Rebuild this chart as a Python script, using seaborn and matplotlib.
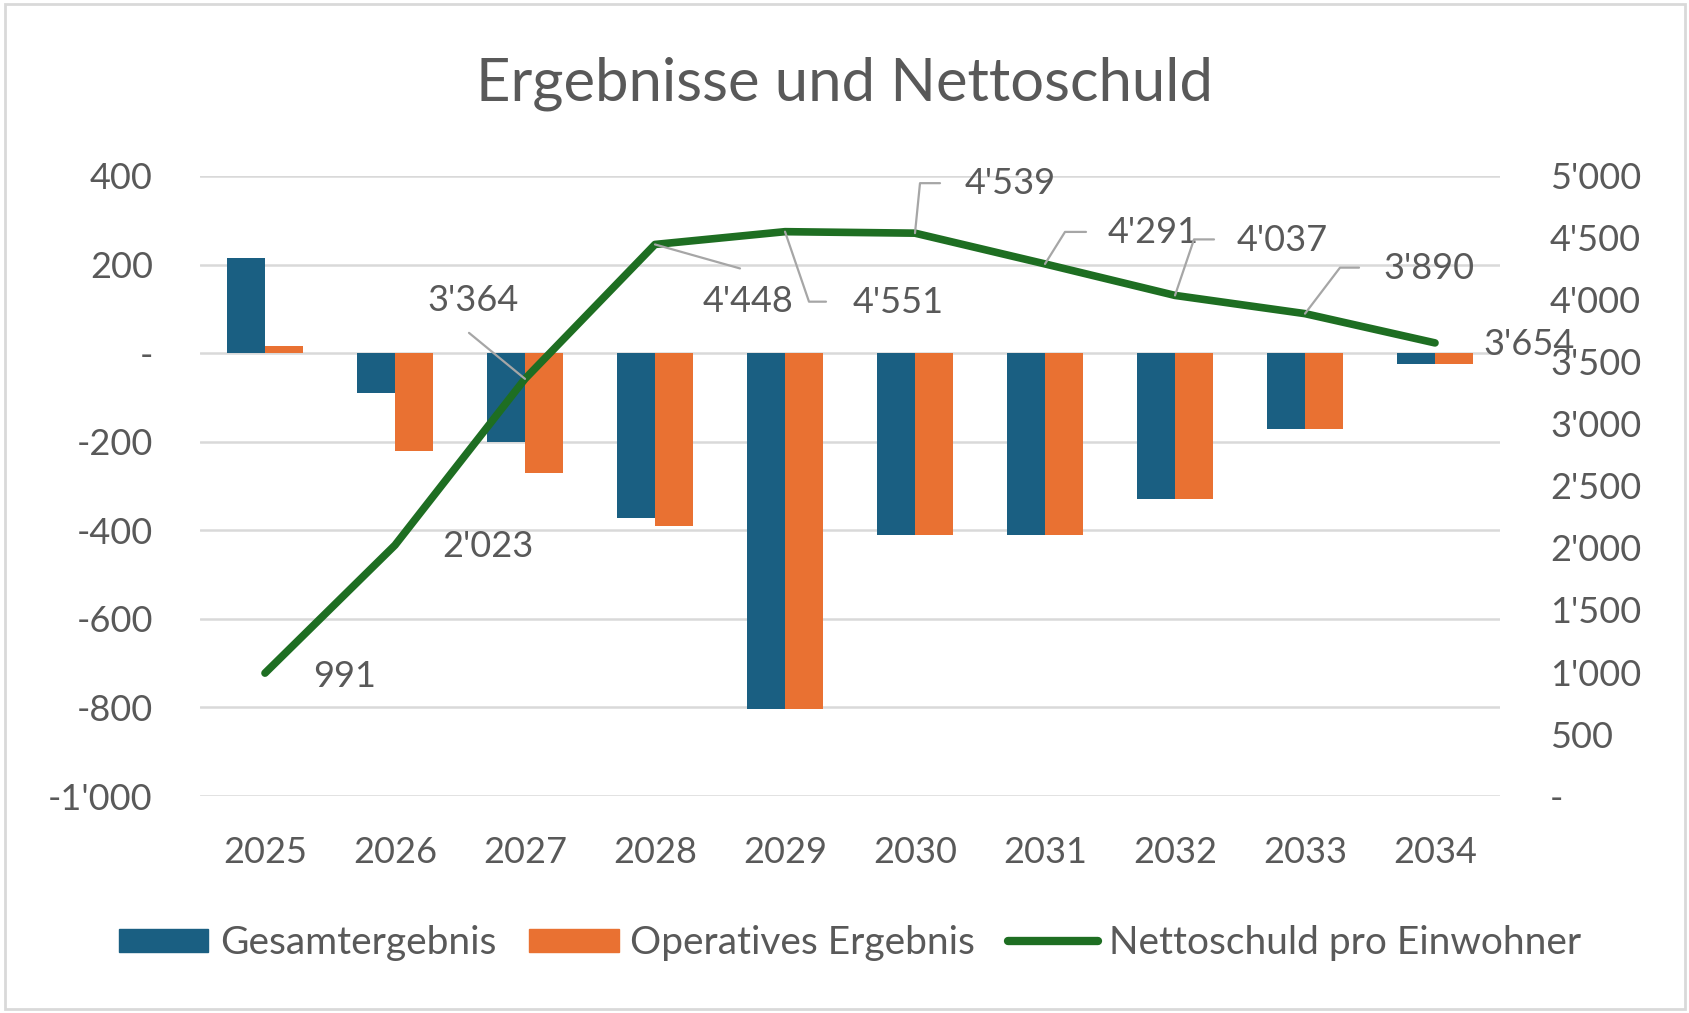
import numpy as np
import pandas as pd
import matplotlib
matplotlib.use('Agg')
import matplotlib.pyplot as plt
import seaborn as sns
from matplotlib.lines import Line2D
from matplotlib.patches import Rectangle
from matplotlib.transforms import IdentityTransform

sns.set_theme(style='white')
plt.rcParams['font.family'] = ['Lato', 'DejaVu Sans']

# data
years = ['2025', '2026', '2027', '2028', '2029', '2030', '2031', '2032', '2033', '2034']
gesamt = [214, -90, -200, -373, -804, -410, -410, -330, -171, -25]
operativ = [16, -222, -271, -390, -804, -410, -410, -330, -171, -25]
netdebt = [991, 2023, 3364, 4448, 4551, 4539, 4291, 4037, 3890, 3654]
series_names = ['Gesamtergebnis', 'Operatives Ergebnis', 'Nettoschuld pro Einwohner']

c_blue = '#1a5f82'
c_orange = '#e97132'
c_green = '#1e6e22'
c_text = '#595959'
c_grid = '#d9d9d9'

df = pd.DataFrame({
    'Jahr': years * 2,
    'Wert': gesamt + operativ,
    'Serie': [series_names[0]] * len(years) + [series_names[1]] * len(years),
})

fig = plt.figure(figsize=(16.9, 10.13), dpi=100)
ax = fig.add_axes([200 / 1690, 1 - 796 / 1013, 1300 / 1690, 620 / 1013])

sns.barplot(data=df, x='Jahr', y='Wert', hue='Serie', order=years,
            palette=[c_blue, c_orange], width=0.58, linewidth=0,
            saturation=1, ax=ax, legend=False)
ax.set_ylim(-1000, 400)
ax.set_yticks(np.arange(-1000, 401, 200))
ax.set_xlim(-0.5, len(years) - 0.5)
ax.grid(axis='y', color=c_grid, linewidth=1.8)
ax.set_axisbelow(True)
ax.set_xlabel('')
ax.set_ylabel('')


def fmt(v, pos=None):
    if v == 0:
        return '-'
    return f"{int(round(v)):,}".replace(',', "'")


ax.yaxis.set_major_formatter(plt.FuncFormatter(fmt))
ax.tick_params(axis='y', length=0, labelsize=26, labelcolor=c_text, pad=34)
ax.tick_params(axis='x', length=0, labelsize=26, labelcolor=c_text, pad=29)
for s in ax.spines.values():
    s.set_visible(False)

ax2 = ax.twinx()
pos = np.arange(len(years))
sns.lineplot(x=pos, y=netdebt, color=c_green, linewidth=5.5, ax=ax2,
             solid_capstyle='round', solid_joinstyle='round')
ax2.set_ylim(0, 5000)
ax2.set_yticks(np.arange(0, 5001, 500))
ax2.yaxis.set_major_formatter(plt.FuncFormatter(fmt))
ax2.tick_params(axis='y', length=0, labelsize=26, labelcolor=c_text, pad=36)
ax2.grid(False)
ax2.set_xlim(-0.5, len(years) - 0.5)
for s in ax2.spines.values():
    s.set_visible(False)

# data labels: offset of label (px, y up) and leader path offsets
label_off = [(48, -3, 'left'), (47, -1, 'left'), (-52, 78, 'center'),
             (93, -57, 'center'), (68, -71, 'left'), (50, 50, 'left'),
             (63, 31, 'left'), (62, 55, 'left'), (78, 45, 'left'),
             (48, -2, 'left')]
leaders = {2: [(-56, 46)], 3: [(85, -24)], 4: [(24, -70), (41, -70)],
           5: [(5, 50), (25, 50)], 6: [(20, 32), (41, 32)],
           7: [(19, 56), (39, 56)], 8: [(35, 46), (54, 46)]}

for i, v in enumerate(netdebt):
    dx, dy, ha = label_off[i]
    ax2.annotate(fmt(v), (pos[i], v), xytext=(dx, dy), textcoords='offset pixels',
                 ha=ha, va='center', fontsize=26, color=c_text)

fig.canvas.draw()
for i, pts in leaders.items():
    x0, y0 = ax2.transData.transform((pos[i], netdebt[i]))
    xs = [x0] + [x0 + p[0] for p in pts]
    ys = [y0] + [y0 + p[1] for p in pts]
    fig.add_artist(Line2D(xs, ys, transform=IdentityTransform(),
                          color='#a6a6a6', linewidth=1.6, zorder=1))

fig.text(0.5, 1 - 84 / 1013, 'Ergebnisse und Nettoschuld', ha='center',
         va='center', fontsize=43, color=c_text)

handles = [Rectangle((0, 0), 1, 1, color=c_blue),
           Rectangle((0, 0), 1, 1, color=c_orange),
           Line2D([0], [0], color=c_green, linewidth=6, solid_capstyle='round')]
fig.legend(handles, series_names, loc='center', bbox_to_anchor=(0.503, 1 - 943 / 1013),
           ncol=3, frameon=False, fontsize=28, handlelength=2.3, handleheight=0.55,
           handletextpad=0.3, columnspacing=0.85, labelcolor=c_text)

fig.add_artist(Rectangle((0.003, 0.004), 0.994, 0.992, transform=fig.transFigure,
                         fill=False, edgecolor=c_grid, linewidth=2))

fig.savefig('out.png', dpi=100)
